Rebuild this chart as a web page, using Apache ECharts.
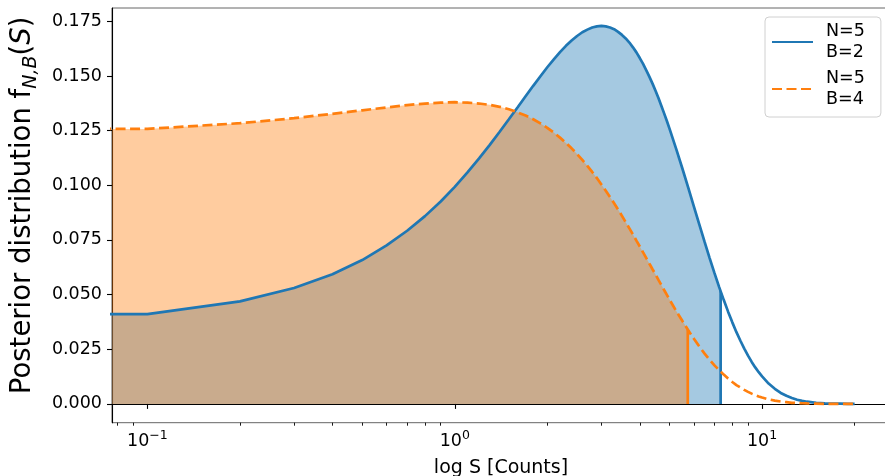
<!DOCTYPE html>
<html><head><meta charset="utf-8">
<script src="https://cdn.jsdelivr.net/npm/echarts@6/dist/echarts.min.js"></script>
<style>html,body{margin:0;padding:0;background:#fff}#c{width:885px;height:476px}</style>
</head><body><div id="c"></div>
<script>
// ---- data ----
const S = [0.1,0.2,0.3,0.4,0.5,0.6,0.7,0.8,0.9,1.0,
  1.1,1.2,1.3,1.4,1.5,1.6,1.7,1.8,1.9,2.0,
  2.1,2.2,2.3,2.4,2.5,2.6,2.7,2.8,2.9,3.0,
  3.1,3.2,3.3,3.4,3.5,3.6,3.7,3.8,3.9,4.0,
  4.1,4.2,4.3,4.4,4.5,4.6,4.7,4.8,4.9,5.0,
  5.25,5.5,5.75,6.0,6.25,6.5,6.75,7.0,7.25,7.5,
  7.75,8.0,8.25,8.5,8.75,9.0,9.25,9.5,9.75,10,
  10.5,11,11.5,12,12.5,13,13.5,14,
  15,16,17,18,19,20];
const fB2 = [0.0411,0.0469,0.0530,0.0593,0.0658,0.0725,0.0792,0.0859,0.0926,0.0993,
  0.1059,0.1123,0.1185,0.1245,0.1302,0.1356,0.1407,0.1455,0.1499,0.1540,
  0.1576,0.1609,0.1638,0.1662,0.1683,0.1700,0.1712,0.1722,0.1727,0.1729,
  0.1727,0.1722,0.1714,0.1702,0.1688,0.1672,0.1653,0.1631,0.1608,0.1582,
  0.1555,0.1526,0.1496,0.1465,0.1432,0.1399,0.1364,0.1329,0.1294,0.1258,
  0.1168,0.1078,0.0989,0.0902,0.0820,0.0741,0.0667,0.0598,0.0534,0.0476,
  0.0422,0.0373,0.0328,0.0289,0.0253,0.0221,0.0192,0.0167,0.0145,0.0126,
  0.0093,0.0069,0.0050,0.0037,0.0027,0.0019,0.0014,0.0010,
  0.0005,0.0002,0.0001,0.0001,0.0000,0.0000];
const fB4 = [0.1258,0.1284,0.1307,0.1327,0.1343,0.1356,0.1367,0.1374,0.1378,0.1380,
  0.1378,0.1374,0.1368,0.1359,0.1348,0.1334,0.1319,0.1302,0.1283,0.1263,
  0.1241,0.1218,0.1194,0.1169,0.1143,0.1116,0.1089,0.1061,0.1033,0.1004,
  0.0975,0.0946,0.0918,0.0889,0.0860,0.0831,0.0803,0.0775,0.0747,0.0720,
  0.0693,0.0667,0.0641,0.0616,0.0592,0.0567,0.0544,0.0521,0.0499,0.0477,
  0.0426,0.0380,0.0337,0.0298,0.0262,0.0230,0.0202,0.0176,0.0154,0.0134,
  0.0116,0.0100,0.0086,0.0075,0.0064,0.0055,0.0047,0.0040,0.0034,0.0029,
  0.0021,0.0015,0.0011,0.0008,0.0005,0.0004,0.0003,0.0002,
  0.0001,0.0000,0.0000,0.0000,0.0000,0.0000];
// S -> 0 end of the curve (lies left of the log axis, clipped like the source)
const S0 = 0.01;
const f0B2 = 0.0411;
const f0B4 = 0.1258;
// upper limits (vertical lines)
const upperB2 = [7.33, 0.0516];
const upperB4 = [5.73, 0.0340];
const nameB2 = 'N=5\nB=2';
const nameB4 = 'N=5\nB=4';
const xMajorTicks = [0.1, 1, 10];
const xMinorTicks = [0.08,0.09,0.2,0.3,0.4,0.5,0.6,0.7,0.8,0.9,2,3,4,5,6,7,8,9,20];
const yTicks = [0,0.025,0.05,0.075,0.1,0.125,0.15,0.175];
const xLabel = 'log S [Counts]';

// ---- build ----
const FONT = 'DejaVu Sans';
const C0 = '#1f77b4', C1 = '#ff7f0e';
function curve(f, f0){ return [[S0, f0]].concat(S.map((s,i)=>[s, f[i]])); }
function fill(f, f0, up){ return [[S0, f0]].concat(S.map((s,i)=>[s,f[i]]).filter(p=>p[0] < up[0])).concat([up]); }
const xMin = 0.0767, xMax = 26.07;
const supMap = {'-1':'\u22121','0':'0','1':'1'};

const chart = echarts.init(document.getElementById('c'), null, {renderer:'canvas'});
chart.setOption({
  animation:false,
  backgroundColor:'#fff',
  textStyle:{fontFamily:FONT},
  grid:{left:112, top:8, width:778, height:414.7, show:true, borderColor:'#666', borderWidth:1, outerBoundsMode:'none', containLabel:false},
  legend:{
    data:[nameB2, nameB4], orient:'vertical', left:765, top:17,
    padding:[4,16,7,6], itemGap:5, itemWidth:41, itemHeight:14,
    backgroundColor:'rgba(255,255,255,0.8)', borderColor:'#d0d0d0', borderWidth:1, borderRadius:4,
    selectedMode:false,
    itemStyle:{opacity:0, borderWidth:0},
    textStyle:{fontFamily:FONT, fontSize:17.5, lineHeight:21, color:'#000', padding:[0,0,0,8]}
  },
  xAxis:[{
    type:'log', logBase:10, min:xMin, max:xMax, position:'bottom',
    axisLine:{show:true, lineStyle:{color:'#000', width:1.1}},
    axisTick:{show:true, inside:false, length:5, lineStyle:{color:'#000', width:1.1}, customValues:xMajorTicks},
    axisLabel:{show:true, margin:7, customValues:xMajorTicks, color:'#000',
      formatter:function(v){ const e = Math.round(Math.log10(v)); return '{b|10}{sup|' + supMap[String(e)] + '}'; },
      rich:{ b:{fontFamily:FONT, fontSize:17.5, lineHeight:24, color:'#000'},
             sup:{fontFamily:FONT, fontSize:12.5, lineHeight:14, verticalAlign:'top', color:'#000'} } },
    splitLine:{show:false}, minorTick:{show:false},
    name:xLabel, nameLocation:'middle', nameGap:36,
    nameTextStyle:{fontFamily:FONT, fontSize:19, color:'#000'}
  },{
    type:'log', logBase:10, min:xMin, max:xMax, position:'bottom',
    axisLine:{show:false},
    axisTick:{show:true, length:3, lineStyle:{color:'#000', width:0.9}, customValues:xMinorTicks},
    axisLabel:{show:false}, splitLine:{show:false}
  }],
  yAxis:{
    type:'value', min:-0.0086, max:0.1811,
    axisLine:{show:true, lineStyle:{color:'#000', width:1.1}},
    axisTick:{show:true, length:5, lineStyle:{color:'#000', width:1.1}, customValues:yTicks},
    axisLabel:{show:true, margin:10, customValues:yTicks, color:'#000', fontFamily:FONT, fontSize:17.5,
      formatter:function(v){ return v.toFixed(3); }},
    splitLine:{show:false},
    name:'{a|Posterior distribution f}{sub|N,B}{a|(}{it|S}{a|)}',
    nameLocation:'middle', nameRotate:90, nameGap:62,
    nameTextStyle:{color:'#000', padding:[0,0,0,20], rich:{
      a:{fontFamily:FONT, fontSize:27.5, lineHeight:36, color:'#000'},
      it:{fontFamily:FONT, fontSize:27.5, lineHeight:36, fontStyle:'italic', color:'#000'},
      sub:{fontFamily:FONT, fontSize:19, lineHeight:19, fontStyle:'italic', verticalAlign:'bottom', color:'#000'}
    }}
  },
  series:[
    {type:'line', xAxisIndex:0, data:fill(fB2, f0B2, upperB2), symbol:'none', silent:true,
     lineStyle:{width:0}, areaStyle:{color:C0, opacity:0.4}, z:1},
    {type:'line', xAxisIndex:0, data:fill(fB4, f0B4, upperB4), symbol:'none', silent:true,
     lineStyle:{width:0}, areaStyle:{color:C1, opacity:0.4}, z:1},
    {name:nameB2, type:'line', xAxisIndex:0, data:curve(fB2, f0B2), symbol:'none', silent:true,
     lineStyle:{color:C0, width:2.7}, itemStyle:{color:C0}, z:3},
    {type:'line', xAxisIndex:0, data:[[upperB2[0],0], upperB2], symbol:'none', silent:true,
     lineStyle:{color:C0, width:2.7}, z:3},
    {name:nameB4, type:'line', xAxisIndex:0, data:curve(fB4, f0B4), symbol:'none', silent:true,
     lineStyle:{color:C1, width:2.7, type:[10,4.5]}, itemStyle:{color:C1}, z:4},
    {type:'line', xAxisIndex:0, data:[[upperB4[0],0], upperB4], symbol:'none', silent:true,
     lineStyle:{color:C1, width:2.7}, z:4}
  ]
});
</script></body></html>
